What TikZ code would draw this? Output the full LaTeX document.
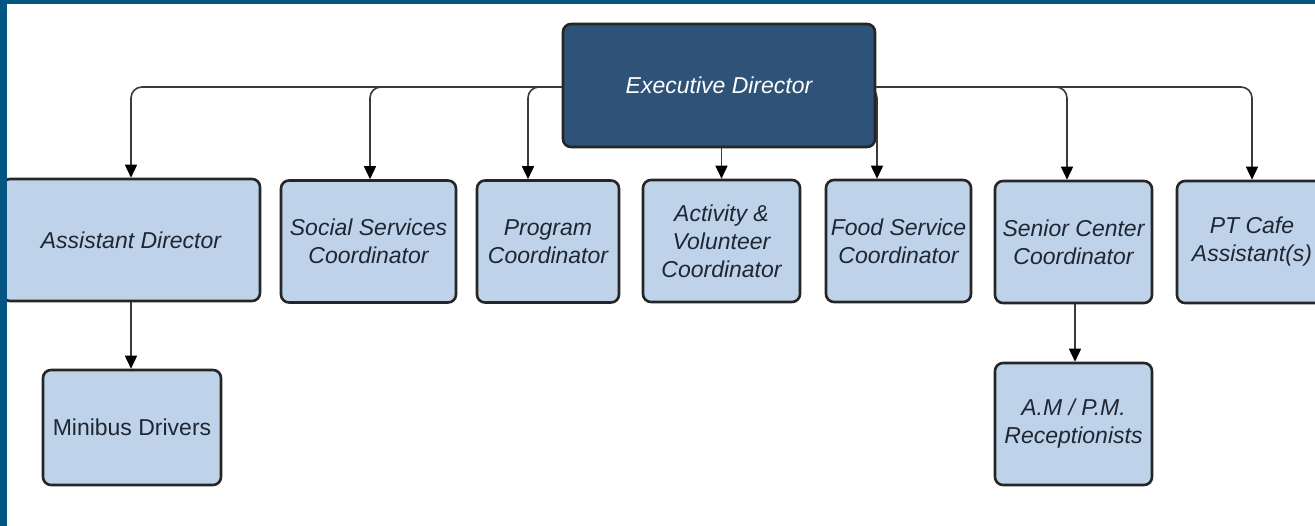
\documentclass[tikz,border=0pt]{standalone}
\usepackage{fontspec}
\setmainfont{Liberation Sans}
\usetikzlibrary{arrows.meta,backgrounds}
\definecolor{frameblue}{HTML}{055582}
\definecolor{boxfill}{HTML}{BED3EA}
\definecolor{execfill}{HTML}{2F5378}
\definecolor{txt}{HTML}{1F2633}
\definecolor{linec}{HTML}{3A3A3A}
\begin{document}
\begin{tikzpicture}[x=1pt,y=-1pt,
  box/.style={draw=black!85, line width=2.6pt, rounded corners=8pt, fill=boxfill, text=txt, align=center, inner sep=0pt, font=\fontsize{23}{28}\selectfont\itshape},
  execbox/.style={box, fill=execfill, text=white},
  tip/.style={-{Triangle[length=13pt,width=12pt,color=black]}},
  conn/.style={draw=linec, line width=1.6pt, rounded corners=11pt, tip},
  plain/.style={draw=linec, line width=1.6pt, tip}]
\useasboundingbox (0,0) rectangle (1315,526);
\clip (0,0) rectangle (1315,526);
% nodes
\node[execbox, minimum width=312pt, minimum height=123pt] (exec) at (719,85.5) {\raisebox{-3pt}{Executive Director}};
\node[box, minimum width=258pt, minimum height=122pt] (asst) at (131,240) {Assistant Director};
\node[box, minimum width=175pt, minimum height=122pt] (social) at (368.5,241.5) {Social Services\\Coordinator};
\node[box, minimum width=142pt, minimum height=122pt] (prog) at (548,241.5) {Program\\Coordinator};
\node[box, minimum width=157pt, minimum height=122pt] (act) at (721.5,241) {Activity \&\\Volunteer\\Coordinator};
\node[box, minimum width=145pt, minimum height=122pt] (food) at (898.5,241) {Food Service\\Coordinator};
\node[box, minimum width=157pt, minimum height=122pt] (senior) at (1073.5,242) {Senior Center\\Coordinator};
\node[box, minimum width=150pt, minimum height=122pt] (pt) at (1252,242) {PT Cafe\\Assistant(s)};
\node[box, font=\fontsize{23}{28}\selectfont, minimum width=178pt, minimum height=115pt] (mini) at (132,427.5) {Minibus Drivers};
\node[box, minimum width=157pt, minimum height=122pt] (recep) at (1073.5,424) {A.M / P.M.\\Receptionists};
% connectors
\begin{pgfonlayer}{background}
\fill[white] (0,0) rectangle (1315,526);
\draw[conn] ([yshift=-1.5pt]exec.west) -| (asst.north);
\draw[conn] ([yshift=-1.5pt]exec.west) -| ([xshift=1.5pt]social.north);
\draw[conn] ([yshift=-1.5pt]exec.west) -| ([xshift=-20pt]prog.north);
\draw[plain] (act.north |- exec.south) -- (act.north);
\draw[conn] ([yshift=-1.5pt]exec.east) -| ([xshift=-21.5pt]food.north);
\draw[conn] ([yshift=-1.5pt]exec.east) -| ([xshift=-6.5pt]senior.north);
\draw[conn] ([yshift=-1.5pt]exec.east) -| (pt.north);
\draw[plain] (asst.south) -- (asst.south |- mini.north);
\draw[plain] ([xshift=1.5pt]senior.south) -- ([xshift=1.5pt]recep.north);
\end{pgfonlayer}
% frame
\fill[frameblue] (0,0) rectangle (1315,4);
\fill[frameblue] (0,0) rectangle (7,526);
\end{tikzpicture}
\end{document}
